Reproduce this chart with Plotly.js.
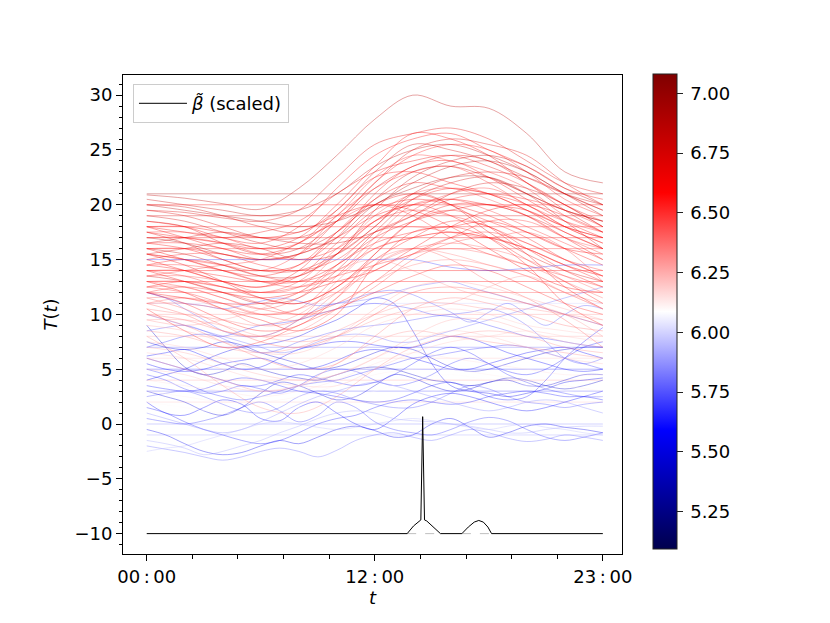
<!DOCTYPE html>
<html><head><meta charset="utf-8">
<script src="https://cdn.plot.ly/plotly-3.0.1.min.js"></script>
<style>body{margin:0;background:#fff}</style>
</head><body><div id="chart" style="width:830px;height:623px"></div>
<script>
// ---------- DATA ----------
const xTickVals = [0, 0.5, 1];
const xTickText = ['00\u2009:\u200900', '12\u2009:\u200900', '23\u2009:\u200900'];
const cbTickVals = [5.25, 5.5, 5.75, 6.0, 6.25, 6.5, 6.75, 7.0];

const xGrid13 = [0,0.0833,0.1667,0.25,0.3333,0.4167,0.5,0.5833,0.6667,0.75,0.8333,0.9167,1];
const xGrid25 = [0,0.0417,0.0833,0.125,0.1667,0.2083,0.25,0.2917,0.3333,0.375,0.4167,0.4583,0.5,0.5417,0.5833,0.625,0.6667,0.7083,0.75,0.7917,0.8333,0.875,0.9167,0.9583,1];

// smooth (mostly red / pink) curves on the 13-point grid
const smoothSeries = [
[20.9,20.6,20.1,19.6,21.5,24.5,27.8,30.0,29.0,28.8,26.5,23.0,22.0],
[19.5,19.3,18.8,18.5,19.5,22.5,25.5,26.5,27.0,26.0,24.0,22.0,21.0],
[18.5,18.0,17.0,16.5,18.0,21.5,24.5,26.0,26.5,25.0,23.5,21.5,20.5],
[20.0,19.8,19.0,18.0,17.5,19.5,23.0,25.5,25.0,24.0,22.5,21.0,20.0],
[17.5,17.0,16.5,16.0,17.0,20.0,23.5,26.5,26.0,24.5,22.0,20.0,18.5],
[16.5,16.5,16.0,15.0,15.5,18.5,22.0,24.5,25.5,25.0,23.0,20.5,19.0],
[15.5,15.0,14.5,14.0,15.5,19.0,21.5,23.0,23.5,22.0,20.0,18.5,17.5],
[14.5,14.0,13.0,12.5,14.0,17.5,20.5,22.0,21.5,21.0,19.5,18.0,17.0],
[13.5,13.5,13.0,12.0,12.5,15.5,19.0,21.0,21.5,20.5,19.0,17.0,16.0],
[12.5,12.0,11.0,10.0,10.5,13.5,17.0,20.0,20.5,19.5,18.0,16.5,15.0],
[12.0,11.0,9.5,8.5,9.0,11.5,15.5,18.5,19.5,18.5,17.0,15.0,13.5],
[11.0,10.0,8.5,8.0,9.5,13.0,16.0,17.0,17.5,17.0,16.0,14.5,13.5],
[13.0,12.0,10.5,9.5,8.5,10.0,14.5,17.5,18.0,18.5,17.5,16.0,14.5],
[16.0,15.5,14.5,13.5,13.5,15.5,19.5,22.5,24.0,24.5,23.5,21.5,20.0],
[18.0,17.5,17.0,17.5,18.5,21.0,23.0,24.0,24.5,23.5,22.0,20.0,18.0],
[17.0,16.5,15.5,15.0,15.5,17.0,20.0,21.5,22.5,22.5,21.0,19.5,18.5],
[15.0,15.5,15.5,14.5,14.0,15.0,17.5,19.0,20.5,21.0,20.5,19.5,18.0],
[14.0,13.5,12.5,12.0,13.0,16.0,18.5,19.5,19.0,18.0,16.5,15.0,14.0],
[12.5,13.0,12.5,11.5,11.0,12.5,15.0,17.0,18.5,18.0,16.0,14.0,12.5],
[19.0,18.5,17.5,16.5,16.0,17.5,20.5,23.0,23.5,22.5,21.0,19.5,18.5],
[16.5,16.0,15.0,14.0,14.5,17.0,21.0,23.5,24.0,22.5,20.5,18.5,17.0],
[14.5,14.5,14.0,13.0,12.5,13.5,16.5,19.5,21.0,21.5,20.0,18.0,16.5],
[11.5,11.5,10.5,9.0,9.5,12.0,14.5,16.0,16.5,16.0,15.0,13.5,12.0],
[10.5,10.0,9.5,9.0,10.0,12.5,15.0,16.0,15.5,14.5,13.5,12.0,11.0],
[13.0,12.5,11.5,10.5,11.5,14.5,17.5,18.0,17.5,17.0,17.5,16.0,13.0],
[17.5,17.5,17.0,16.0,16.5,19.0,22.5,24.5,24.0,23.0,21.5,19.0,17.5],
[15.5,15.0,14.0,13.0,13.0,14.5,17.0,18.5,19.5,20.0,19.0,17.5,16.0],
[12.0,12.5,12.0,11.0,10.0,11.0,13.0,15.5,17.0,17.5,16.5,15.0,13.5],
[20.5,20.0,19.5,19.0,19.5,21.0,23.5,25.0,25.5,24.5,23.0,21.0,19.0],
[18.5,18.0,16.5,15.5,16.0,18.5,22.0,25.0,26.0,25.5,24.5,22.0,20.0],
[14.0,14.0,13.5,13.0,13.5,15.5,18.5,20.0,19.0,17.0,14.5,11.0,9.0],
[16.0,15.0,14.0,13.5,14.5,17.5,20.0,21.0,20.0,18.0,15.5,12.5,10.5],
[11.0,11.5,11.0,10.0,9.5,11.5,14.5,16.0,15.0,13.0,11.5,9.5,7.0],
[19.5,19.0,18.0,17.0,17.0,18.5,21.5,23.5,24.5,24.0,22.0,19.5,17.5],
[17.0,17.0,16.5,15.5,15.0,16.0,18.5,20.5,21.5,21.0,20.0,18.0,16.5],
[15.0,14.0,13.0,12.5,13.5,16.5,19.5,20.5,20.0,19.0,17.5,16.0,15.5],
[13.5,13.0,12.0,11.0,11.5,14.0,17.5,20.5,22.0,22.5,21.0,18.5,16.0],
[12.5,12.5,11.5,10.5,10.0,10.5,12.5,15.0,16.5,17.0,16.0,14.5,13.5],
[16.0,16.0,15.5,15.0,15.5,17.0,19.0,20.0,20.5,20.0,19.5,18.0,17.0],
[20.0,19.5,19.0,18.5,18.0,18.5,20.0,22.0,23.5,24.0,23.0,21.0,19.5],
[18.0,17.0,16.0,15.5,16.5,19.5,22.5,23.0,22.0,21.0,19.5,17.5,16.0],
[14.5,15.0,14.5,13.5,13.0,14.0,16.0,17.0,17.5,17.0,16.0,14.5,13.0],
[11.0,11.0,10.5,10.0,10.5,12.0,14.0,15.5,16.0,15.5,14.5,13.0,11.5],
[15.5,14.5,13.0,11.5,11.0,12.5,15.5,18.5,20.0,20.0,19.0,17.0,15.0],
[13.0,13.0,12.5,12.0,12.5,13.5,14.5,15.5,17.0,18.5,18.5,17.0,15.5],
[17.5,16.5,15.0,14.0,14.0,15.5,18.0,21.0,22.5,23.0,22.5,21.0,19.5],
[10.0,9.5,8.5,8.0,8.5,10.5,13.0,14.5,15.0,14.5,13.5,12.0,10.5],
[16.5,17.0,17.5,17.0,16.5,16.5,17.5,19.0,21.0,22.0,21.5,20.0,18.0],
[12.0,11.5,11.0,11.0,12.0,14.5,16.5,17.5,18.0,17.0,15.0,13.0,11.0],
[14.0,13.0,12.0,11.5,12.0,13.0,14.0,16.0,18.0,19.5,20.0,19.0,17.5],
[18.0,18.0,17.5,17.0,17.5,19.0,20.0,19.5,18.0,16.0,14.0,12.5,12.0],
[15.5,16.0,16.5,16.0,15.0,15.5,18.0,21.0,20.0,17.5,15.5,14.0,13.0],
[13.5,14.0,14.5,15.0,16.5,18.5,20.0,19.0,17.0,15.5,14.5,13.5,12.5],
[9.5,9.0,9.5,10.5,12.0,14.0,15.0,14.0,12.5,11.5,11.0,10.0,8.0],
[9.0,8.5,7.5,6.5,6.5,8.0,10.5,12.5,13.0,12.5,11.5,10.5,9.5],
[7.5,7.0,6.0,5.0,5.5,7.0,9.0,10.0,10.5,10.0,9.0,8.5,8.0],
[6.0,5.0,4.0,3.0,3.5,5.5,7.5,8.5,8.0,7.5,7.0,6.5,6.0],
[5.0,4.5,3.5,3.0,3.5,4.5,6.0,7.5,8.5,8.0,7.0,6.0,5.5],
[4.0,3.5,3.0,2.5,3.0,4.0,5.5,6.5,6.0,5.5,5.0,4.5,4.5],
[10.0,9.0,7.5,6.0,5.0,5.5,8.0,10.5,11.5,11.0,10.0,9.0,8.5],
[8.5,8.0,7.0,6.5,7.0,8.5,10.0,11.0,11.0,10.5,10.5,10.0,9.5],
[3.0,2.5,2.0,2.0,2.5,3.5,4.5,5.0,5.0,4.5,4.0,3.5,3.0],
[7.0,6.5,5.5,4.5,4.0,4.5,6.0,8.0,9.5,9.5,8.5,7.5,7.0],
[11.5,10.5,9.0,7.5,7.0,8.0,10.0,12.0,12.5,12.0,11.0,10.0,9.0],
[2.0,1.5,1.0,1.0,1.5,2.0,3.0,4.0,4.5,4.0,3.5,3.0,2.5],
[9.5,9.5,9.0,8.0,7.5,8.0,9.5,10.5,11.0,12.5,13.5,12.0,10.5],
[6.5,6.0,5.0,4.0,3.5,3.5,5.0,6.5,7.5,8.0,8.5,8.0,7.5],
[8.0,6.0,3.5,1.5,1.0,2.5,5.0,7.0,8.0,8.5,8.0,7.0,6.5],
[10.5,8.5,7.0,7.5,9.0,10.5,12.0,13.5,14.5,14.0,12.5,11.0,10.0],
[15.0,15.0,15.0,15.0,15.0,15.0,15.0,15.0,14.3,14.0,14.2,14.5,14.5]
];
const smoothColors = [
6.85,6.7,6.6,6.75,6.6,6.55,6.5,6.6,6.45,6.5,
6.55,6.4,6.6,6.8,6.65,6.9,6.55,6.5,6.55,6.75,
6.6,6.5,6.4,6.35,6.45,6.5,6.65,6.5,6.8,6.7,
6.55,6.6,6.4,6.7,6.55,6.6,6.75,6.45,6.6,6.85,
6.6,6.55,6.4,6.65,6.5,6.7,6.35,6.75,6.55,6.6,
6.6,6.7,6.5,6.3,
6.25,6.2,6.3,6.2,6.15,6.35,6.3,6.12,6.25,6.4,
6.1,6.3,6.2,6.3,6.5,5.7
];

// wiggly (mostly blue) curves on the 25-point grid
const wigglySeries = [
[-0.5,-1.0,-1.8,-2.5,-2.8,-2.6,-2.0,-1.5,-1.8,-1.2,-0.5,-0.2,-0.6,-1.2,-1.0,0.0,0.5,-0.3,-1.2,-0.8,-0.2,0.0,-0.3,-0.5,-0.8],
[0.5,0.2,0.0,0.3,0.8,1.5,2.0,1.2,0.2,0.8,2.0,1.5,0.2,-0.5,-0.8,-1.0,-0.5,0.2,0.6,0.3,-0.5,-1.2,-1.5,-1.2,-0.8],
[-2.0,-2.3,-2.6,-3.0,-3.3,-3.0,-2.5,-2.2,-2.5,-3.0,-2.4,-1.5,-1.0,-0.8,-1.2,-1.5,-1.0,-0.5,-0.8,-1.3,-1.6,-1.4,-1.0,-1.2,-1.5],
[1.5,1.0,0.2,-0.5,-1.0,-1.5,-1.8,-1.5,-0.8,0.0,0.5,0.8,1.5,2.0,2.2,2.0,1.8,2.0,2.5,2.8,3.0,2.8,2.5,2.5,2.2],
[2.5,2.8,3.0,2.5,1.8,1.2,1.0,1.5,2.5,3.0,2.8,2.2,1.8,1.5,1.5,2.0,2.8,3.5,3.2,2.5,2.0,1.8,1.5,1.8,2.0],
[3.0,2.5,2.0,1.2,0.8,1.5,2.8,3.8,3.5,2.8,2.2,2.5,3.5,4.5,4.2,3.5,3.0,3.2,3.8,4.0,3.5,3.5,4.0,4.5,4.5],
[4.5,4.0,3.2,2.8,3.0,3.5,3.2,2.8,3.5,4.5,5.0,4.8,4.0,3.5,3.8,4.5,5.5,6.0,5.5,4.5,3.8,3.2,2.8,2.5,2.5],
[5.5,5.0,4.8,5.0,5.5,5.8,6.0,5.5,5.0,5.2,5.8,6.5,6.8,6.5,6.0,5.5,5.0,5.0,5.5,6.0,6.5,6.8,7.0,6.5,6.0],
[9.0,7.0,5.2,4.5,4.8,5.5,5.0,4.5,4.2,4.0,4.5,5.0,5.2,5.0,4.5,4.0,3.8,3.5,3.8,4.2,4.0,3.5,3.2,3.5,4.0],
[6.2,6.5,6.8,6.2,5.5,5.0,5.2,6.0,6.8,7.2,7.5,7.5,7.2,7.0,7.0,7.5,8.0,7.8,7.2,6.5,6.0,5.5,5.0,4.8,5.0],
[7.0,7.5,8.0,8.2,8.0,8.5,9.0,9.2,9.5,10.0,10.5,10.8,11.0,10.8,10.5,10.0,9.8,9.5,9.0,8.5,8.0,7.8,7.5,7.2,7.0],
[4.0,4.5,5.0,5.8,6.5,7.0,7.2,7.5,8.0,8.8,9.5,10.5,11.5,11.0,8.5,5.5,3.5,3.0,2.8,2.5,2.8,3.2,3.8,4.0,4.2],
[3.5,3.2,3.0,3.2,3.8,4.2,4.0,3.5,3.0,2.8,2.5,2.2,2.0,2.2,2.8,3.5,3.8,3.2,2.5,2.2,2.5,4.0,6.0,7.5,8.8],
[12.0,11.5,11.0,10.8,10.5,10.8,11.2,11.5,11.2,10.8,11.0,11.5,12.0,12.2,11.8,11.0,10.2,9.3,10.2,11.0,10.0,9.0,10.0,10.8,10.5],
[10.0,9.5,9.0,8.5,8.0,7.5,7.0,6.5,6.8,7.5,8.0,8.2,8.0,7.5,7.5,8.0,8.5,9.0,9.5,10.0,10.5,11.0,11.5,12.0,12.5],
[2.0,1.0,0.8,1.5,2.2,1.8,0.5,0.3,1.5,2.0,1.0,0.0,-0.5,0.5,1.8,2.5,2.8,2.5,2.0,1.5,1.2,1.5,2.0,2.5,3.0],
[-1.5,-1.8,-2.2,-2.8,-2.5,-2.0,-1.5,-0.8,-0.2,0.5,1.0,1.2,1.0,0.5,0.3,0.2,0.0,-0.2,-0.5,-0.8,-0.8,-0.5,-0.3,-0.2,-0.2],
[1.0,0.5,0.0,-0.5,-0.8,-0.5,0.2,1.0,1.8,2.5,3.0,3.5,3.8,3.5,3.0,2.5,2.0,1.5,1.2,1.5,2.0,2.2,2.0,1.5,1.0],
[7.5,7.0,6.8,7.0,7.5,7.2,6.5,6.0,5.5,5.0,5.2,5.8,6.5,7.0,6.8,6.0,5.2,4.8,5.0,5.5,6.0,6.5,6.8,7.0,7.0],
[5.0,4.5,3.8,3.0,2.5,2.2,2.5,3.0,3.5,3.8,4.0,4.5,5.0,5.5,6.0,6.2,6.5,6.8,7.0,7.2,7.0,6.5,6.0,5.5,5.0],
[8.5,8.8,9.0,8.5,7.8,7.0,6.5,6.8,7.5,8.0,8.5,8.8,9.0,9.2,9.5,9.8,10.0,10.2,10.5,10.0,9.0,7.5,6.0,5.5,6.0],
[-2.5,-2.2,-2.0,-1.5,-1.0,-0.5,0.0,0.2,0.0,-0.3,-0.5,-0.3,0.0,0.3,0.5,0.3,0.0,-0.3,-0.5,-0.2,0.0,-0.3,-0.5,-0.8,-1.0],
[6.0,5.5,5.0,4.5,4.0,3.5,3.5,4.0,4.5,4.2,3.8,3.5,3.8,4.5,5.5,6.5,7.0,6.5,5.5,4.8,4.5,5.0,6.0,7.0,7.5],
[12.0,11.5,10.5,9.5,8.5,8.0,8.0,8.5,9.5,10.5,11.0,11.2,11.5,12.0,12.5,12.8,13.0,12.5,12.0,11.5,11.0,10.5,10.0,9.5,9.0]
];
const wigglyColors = [5.55,5.7,5.8,5.65,5.75,5.5,5.7,5.6,5.45,5.6,5.7,5.55,5.65,5.75,5.8,5.6,5.9,5.85,5.5,5.7,5.75,5.95,5.65,5.8];

// constant curves
const flatValues = [21, 20, 19, 18, 17, 16, 14, 13, 12, 11, 10, 8, 7, 6, 5, 4, 3, 2, 0, -1];
const flatColors = [6.95, 6.6, 6.75, 6.55, 6.65, 6.5, 6.6, 6.55, 6.45, 6.0, 6.3, 6.25, 5.8, 6.2, 5.7, 6.25, 5.75, 6.2, 5.85, 5.9];

// scaled beta curve
const betaX = [0,0.571,0.585,0.598,0.601,0.605,0.609,0.614,0.626,0.644,0.691,0.705,0.718,0.728,0.738,0.748,0.756,1];
const betaY = [-10,-10,-9.3,-8.8,-8.75,0.67,-8.75,-8.85,-9.3,-10,-10,-9.4,-8.95,-8.8,-8.95,-9.4,-10,-10];
const baseGapX = [[0.571,0.644],[0.691,0.756]];
const baseLevel = -10;

// ---------- COLOUR MAP (matplotlib "seismic") ----------
const cMin = 5.094, cMax = 7.081;
const seismicStops = [[0,[0,0,77]],[0.25,[0,0,255]],[0.5,[255,255,255]],[0.75,[255,0,0]],[1,[128,0,0]]];
function seismic(v, a){
  let f = Math.max(0, Math.min(1, (v - cMin) / (cMax - cMin)));
  for (let i = 0; i < seismicStops.length - 1; i++){
    const [f0,c0] = seismicStops[i], [f1,c1] = seismicStops[i+1];
    if (f <= f1){
      const u = (f - f0) / (f1 - f0);
      const c = c0.map((c0k,k)=>Math.round(c0k + u*(c1[k]-c0k)));
      return `rgba(${c[0]},${c[1]},${c[2]},${a})`;
    }
  }
}

// ---------- TRACES ----------
const traces = [];
const ALPHA = 0.45, LW = 0.8;
flatValues.forEach((v,i)=>{
  traces.push({x:[0,1], y:[v,v], mode:'lines', showlegend:false, hoverinfo:'skip',
    line:{color:seismic(flatColors[i],ALPHA), width:LW}});
});
wigglySeries.forEach((ys,i)=>{
  traces.push({x:xGrid25, y:ys, mode:'lines', showlegend:false, hoverinfo:'skip',
    line:{color:seismic(wigglyColors[i],ALPHA), width:LW, shape:'spline', smoothing:1}});
});
smoothSeries.forEach((ys,i)=>{
  traces.push({x:xGrid13, y:ys, mode:'lines', showlegend:false, hoverinfo:'skip',
    line:{color:seismic(smoothColors[i],ALPHA), width:LW, shape:'spline', smoothing:1}});
});
baseGapX.forEach(g=>{
  traces.push({x:g, y:[baseLevel,baseLevel], mode:'lines', showlegend:false, hoverinfo:'skip',
    line:{color:'rgba(120,120,120,0.6)', width:0.8, dash:'dash'}});
});
traces.push({x:betaX, y:betaY, mode:'lines', name:'<i>β̃</i> (scaled)',
  line:{color:'black', width:1}});
// colour bar carrier
traces.push({x:[0.5,0.5], y:[0,0], mode:'markers', showlegend:false, hoverinfo:'skip',
  marker:{size:1, opacity:0, color:[cMin,cMax], cmin:cMin, cmax:cMax,
    colorscale: seismicStops.map(s=>[s[0],`rgb(${s[1].join(',')})`]),
    showscale:true,
    colorbar:{x:1.062, xanchor:'left', xpad:0, ypad:0, y:0.5063, yanchor:'middle',
      len:0.9916, lenmode:'fraction', thickness:24, thicknessmode:'pixels',
      outlinecolor:'#222', outlinewidth:1,
      tickvals:cbTickVals, ticktext:cbTickVals.map(v=>'\u2009'+v.toFixed(2)),
      ticks:'outside', ticklen:6, tickcolor:'#222', tickwidth:1,
      tickfont:{family:'DejaVu Sans', size:18, color:'black'}}}});

const FONT = {family:'DejaVu Sans', size:18, color:'black'};
const layout = {
  width:830, height:623,
  margin:{l:123, r:208, t:75, b:69},
  paper_bgcolor:'white', plot_bgcolor:'white',
  font:FONT,
  showlegend:true,
  legend:{x:0.02, y:0.981, xanchor:'left', yanchor:'top', itemwidth:48,
    bgcolor:'rgba(255,255,255,0.8)', bordercolor:'#cccccc', borderwidth:1,
    font:FONT},
  xaxis:{range:[-0.052,1.042], tickvals:xTickVals, ticktext:xTickText,
    ticks:'outside', ticklen:6, tickwidth:1, tickcolor:'black',
    showline:true, linecolor:'black', linewidth:1, mirror:true,
    showgrid:false, zeroline:false, tickfont:FONT,
    minor:{tick0:0, dtick:0.1, ticks:'outside', ticklen:3.5, tickcolor:'black', tickwidth:1, showgrid:false},
    title:{text:'<i>t</i>', font:FONT, standoff:4}},
  yaxis:{range:[-11.86,31.84], tick0:0, dtick:5,
    ticks:'outside', ticklen:6, tickwidth:1, tickcolor:'black',
    showline:true, linecolor:'black', linewidth:1, mirror:true,
    showgrid:false, zeroline:false, tickfont:FONT,
    minor:{tick0:0, dtick:1, ticks:'outside', ticklen:3.5, tickcolor:'black', tickwidth:1, showgrid:false},
    title:{text:'<i>T</i>(<i>t</i>)', font:FONT, standoff:12}}
};
Plotly.newPlot('chart', traces, layout, {staticPlot:true, displayModeBar:false});
</script></body></html>
